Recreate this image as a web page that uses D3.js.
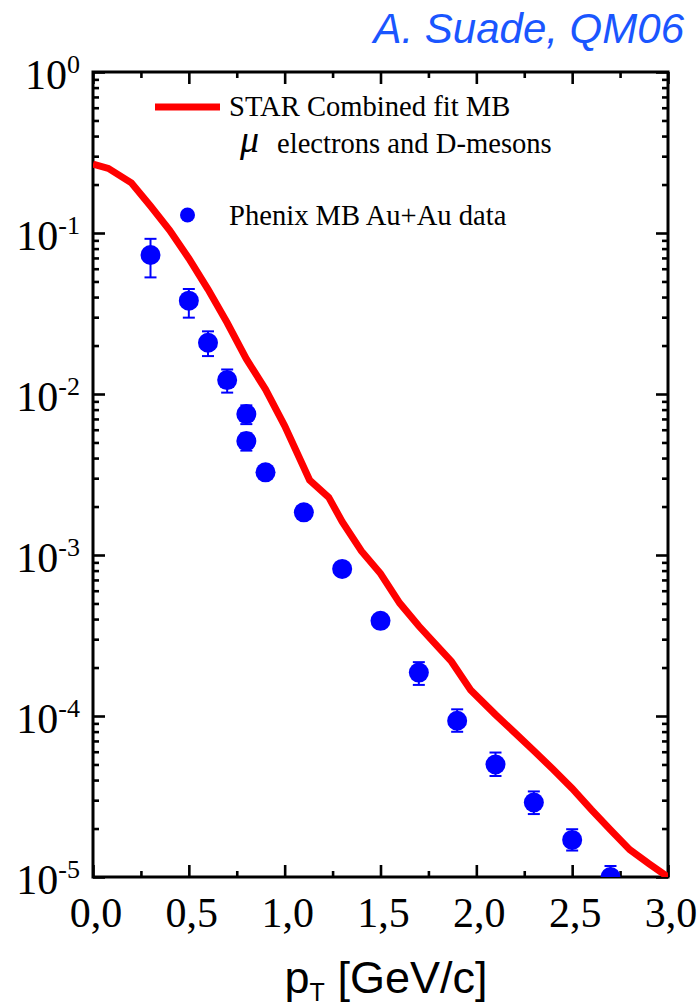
<!DOCTYPE html>
<html>
<head>
<meta charset="utf-8">
<script src="https://cdn.jsdelivr.net/npm/d3@7"></script>
<style>
  body { margin: 0; background: #fff; }
  svg { display: block; }
</style>
</head>
<body>
<svg id="chart" width="699" height="1008"></svg>
<script>
// STAR combined fit (min. bias): muons, electrons and D-mesons
const starPt = [0.0, 0.08, 0.2, 0.3, 0.4, 0.5, 0.6, 0.7, 0.8, 0.9, 1.0, 1.13, 1.23, 1.3, 1.4, 1.5,
                1.6, 1.7, 1.8, 1.87, 1.97, 2.1, 2.2, 2.3, 2.4, 2.5, 2.6, 2.7, 2.8, 2.9, 3.0];
const starY  = [0.268, 0.252, 0.205, 0.147, 0.104, 0.0695, 0.0447, 0.0277, 0.0165, 0.0107, 0.00635,
                0.00292, 0.00228, 0.00161, 0.00106, 0.000767, 0.000503, 0.000362, 0.000269, 0.000218,
                0.000145, 0.000102, 7.88e-5, 6.08e-5, 4.67e-5, 3.55e-5, 2.62e-5, 1.96e-5, 1.48e-5,
                1.21e-5, 1.0e-5];

// PHENIX min. bias Au+Au data with error bars
const phenixPt = [0.3, 0.5, 0.6, 0.7, 0.8, 0.8, 0.9, 1.1, 1.3, 1.5, 1.7, 1.9, 2.1, 2.3, 2.5, 2.7];
const phenixY  = [0.073, 0.038, 0.0208, 0.0122, 0.0075, 0.0051, 0.00326, 0.00184, 0.00082, 0.00039,
                  0.000186, 9.35e-5, 5.0e-5, 2.9e-5, 1.7e-5, 1.0e-5];
const phenixLo = [0.053, 0.0298, 0.0172, 0.0102, 0.0065, 0.00445, 0.00305, 0.00172, 0.00076, 0.00036,
                  0.000156, 7.98e-5, 4.24e-5, 2.46e-5, 1.46e-5, 0.85e-5];
const phenixHi = [0.092, 0.0449, 0.0245, 0.0142, 0.0085, 0.0057, 0.00348, 0.00197, 0.00088, 0.00042,
                  0.000216, 1.10e-4, 5.93e-5, 3.40e-5, 1.98e-5, 1.17e-5];

const xTicks = [0.0, 0.5, 1.0, 1.5, 2.0, 2.5, 3.0];
const xMinor = [0.25, 0.75, 1.25, 1.75, 2.25, 2.75];
const yTicks = [1, 1e-1, 1e-2, 1e-3, 1e-4, 1e-5];
const yExp   = ["0", "-1", "-2", "-3", "-4", "-5"];

const legendLabels = ["STAR Combined fit MB", "electrons and D-mesons", "Phenix MB Au+Au data"];

const svg = d3.select("#chart");
const box = { left: 93, right: 668, top: 72, bottom: 877 };

const x = d3.scaleLinear().domain([0, 3]).range([box.left, box.right]);
const y = d3.scaleLog().domain([1e-5, 1]).range([box.bottom, box.top]);

const yMinor = [];
for (let d = -5; d < 0; d++) for (let k = 2; k <= 9; k++) yMinor.push(k * Math.pow(10, d));

const serif = "'Liberation Serif', 'Times New Roman', serif";
const sans = "'Liberation Sans', Arial, sans-serif";

// clip region for the data
svg.append("defs").append("clipPath").attr("id", "plotClip")
  .append("rect")
  .attr("x", box.left).attr("y", box.top)
  .attr("width", box.right - box.left).attr("height", box.bottom - box.top);

// tick marks on all four sides, pointing inward
function styleAxis(g) {
  g.select(".domain").remove();
  g.selectAll(".tick line").attr("stroke", "#000").attr("stroke-width", 2.6);
}
const major = 12, minor = 6;
svg.append("g").attr("transform", `translate(0,${box.bottom})`)
  .call(d3.axisBottom(x).tickValues(xTicks).tickSize(-major).tickFormat("")).call(styleAxis);
svg.append("g").attr("transform", `translate(0,${box.bottom})`)
  .call(d3.axisBottom(x).tickValues(xMinor).tickSize(-minor).tickFormat("")).call(styleAxis);
svg.append("g").attr("transform", `translate(0,${box.top})`)
  .call(d3.axisTop(x).tickValues(xTicks).tickSize(-major).tickFormat("")).call(styleAxis);
svg.append("g").attr("transform", `translate(0,${box.top})`)
  .call(d3.axisTop(x).tickValues(xMinor).tickSize(-minor).tickFormat("")).call(styleAxis);
svg.append("g").attr("transform", `translate(${box.left},0)`)
  .call(d3.axisLeft(y).tickValues(yTicks).tickSize(-major).tickFormat("")).call(styleAxis);
svg.append("g").attr("transform", `translate(${box.left},0)`)
  .call(d3.axisLeft(y).tickValues(yMinor).tickSize(-minor).tickFormat("")).call(styleAxis);
svg.append("g").attr("transform", `translate(${box.right},0)`)
  .call(d3.axisRight(y).tickValues(yTicks).tickSize(-major).tickFormat("")).call(styleAxis);
svg.append("g").attr("transform", `translate(${box.right},0)`)
  .call(d3.axisRight(y).tickValues(yMinor).tickSize(-minor).tickFormat("")).call(styleAxis);

// frame
svg.append("rect")
  .attr("x", box.left).attr("y", box.top)
  .attr("width", box.right - box.left).attr("height", box.bottom - box.top)
  .attr("fill", "none").attr("stroke", "#000").attr("stroke-width", 3);

// y tick labels: 10^n
const yLab = svg.append("g").attr("font-family", serif).attr("fill", "#000");
yTicks.forEach((v, i) => {
  const t = yLab.append("text")
    .attr("x", 80).attr("y", y(v) + 17)
    .attr("text-anchor", "end").attr("font-size", 42);
  t.append("tspan").text("10");
  t.append("tspan").attr("font-size", 26).attr("dy", -16).text(yExp[i]);
});

// x tick labels with decimal comma
const xLab = svg.append("g").attr("font-family", serif).attr("fill", "#000");
xTicks.forEach(v => {
  xLab.append("text")
    .attr("x", x(v) + 3).attr("y", 927)
    .attr("text-anchor", "middle").attr("font-size", 42)
    .text(d3.format(".1f")(v).replace(".", ","));
});

// axis title
const xt = svg.append("text")
  .attr("x", 386).attr("y", 993).attr("text-anchor", "middle")
  .attr("font-family", sans).attr("font-size", 45).attr("fill", "#000");
xt.append("tspan").text("p");
xt.append("tspan").attr("font-size", 25).attr("dy", 8).text("T");
xt.append("tspan").attr("dy", -8).text(" [GeV/c]");

// header
svg.append("text")
  .attr("x", 684).attr("y", 43).attr("text-anchor", "end")
  .attr("font-family", sans).attr("font-style", "italic").attr("font-size", 42)
  .attr("fill", "#1a56ff").text("A. Suade, QM06");

// data layers
const plot = svg.append("g").attr("clip-path", "url(#plotClip)");

const line = d3.line().x((d, i) => x(starPt[i])).y(d => y(d));
plot.append("path")
  .datum(starY)
  .attr("d", line)
  .attr("fill", "none").attr("stroke", "#ff0000").attr("stroke-width", 7)
  .attr("stroke-linejoin", "miter");

const cap = 6;
const pts = plot.append("g").attr("stroke", "#0000ff").attr("fill", "#0000ff");
phenixPt.forEach((p, i) => {
  const cx = x(p);
  pts.append("line").attr("x1", cx).attr("x2", cx)
    .attr("y1", y(phenixLo[i])).attr("y2", y(phenixHi[i])).attr("stroke-width", 2);
  [phenixLo[i], phenixHi[i]].forEach(e => {
    pts.append("line").attr("x1", cx - cap).attr("x2", cx + cap)
      .attr("y1", y(e)).attr("y2", y(e)).attr("stroke-width", 2);
  });
  pts.append("circle").attr("cx", cx).attr("cy", y(phenixY[i])).attr("r", 10).attr("stroke", "none");
});

// legend
const leg = svg.append("g").attr("font-family", serif).attr("font-size", 28.6).attr("fill", "#000");
leg.append("line").attr("x1", 155).attr("x2", 220).attr("y1", 107).attr("y2", 107)
  .attr("stroke", "#ff0000").attr("stroke-width", 7);
leg.append("text").attr("x", 229).attr("y", 116).text(legendLabels[0]);
leg.append("text").attr("x", 240).attr("y", 152).attr("font-style", "italic").attr("font-size", 38).text("\u03bc");
leg.append("text").attr("x", 277).attr("y", 153).text(legendLabels[1]);
leg.append("circle").attr("cx", 187.5).attr("cy", 215).attr("r", 7.5).attr("fill", "#0000ff");
leg.append("text").attr("x", 229).attr("y", 225).text(legendLabels[2]);
</script>
</body>
</html>
